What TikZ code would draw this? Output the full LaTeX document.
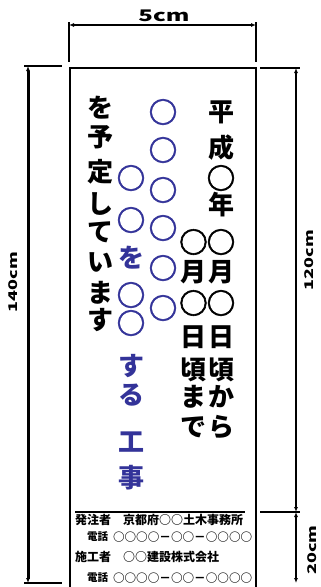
\documentclass[tikz,border=0pt]{standalone}
\usepackage{fontspec}
\setmainfont{Noto Sans CJK JP}
\newfontfamily\ofont[FakeBold=2]{Noto Sans CJK JP}
\usetikzlibrary{arrows.meta}
\usetikzlibrary{positioning}
\definecolor{signblue}{RGB}{51,51,153}
\newcommand{\maru}{{\ofont\scalebox{1.1}{○}}}

\begin{document}
\begin{tikzpicture}[x=1pt, y=-1pt,
    every node/.style={inner sep=0pt, outer sep=0pt},
    big/.style={font=\fontsize{26}{26}\selectfont\bfseries},
    blue/.style={big, text=signblue},
    small/.style={font=\fontsize{12}{12}\selectfont\bfseries, anchor=west},
    tel/.style={font=\fontsize{11.6}{12}\selectfont\bfseries, anchor=west},
    dim/.style={font=\fontsize{12}{12}\selectfont\bfseries},
    dimline/.style={line width=1.5pt, {Latex[length=5pt,width=4pt]}-{Latex[length=5pt,width=4pt]}},
    ext/.style={line width=1.5pt}]
    \useasboundingbox (0,0) rectangle (321,587);

    % board
    \coordinate (bl) at (70,592);
    \coordinate (tl) at (70,68);
    \coordinate (tr) at (256,68);
    \coordinate (br) at (256,592);
    \coordinate (s1) at (75,512);
    \coordinate (s2) at (245,512);
    \draw[line width=2pt] (bl) -- (tl) -- (tr) -- (br);
    \draw[line width=2pt] (s1) -- (s2);

    % date columns
    \foreach \c/\y [count=\i] in {平/112, 成/148, \maru/178, 年/205, \maru/242, 月/272, \maru/303, 日/337, 頃/370, か/397, ら/427}
        \node (b\i) [big] at (221,\y) {\c};
    \foreach \c/\y [count=\i] in {\maru/242, 月/272, \maru/303, 日/337, 頃/370, ま/397, で/427}
        \node (a\i) [big] at (193.5,\y) {\c};

    % work columns
    \foreach \y [count=\i] in {112, 150, 190, 228, 268, 308}
        \node (c\i) [blue] at (163,\y) {\maru};
    \foreach \c/\y [count=\i] in {\maru/178, \maru/220, を/258, \maru/295, \maru/323, す/366, る/395, 工/442, 事/478}
        \node (d\i) [blue] at (131,\y) {\c};
    \foreach \c/\y [count=\i] in {を/108, 予/137, 定/172, し/204, て/232, い/262, ま/293, す/320}
        \node (e\i) [big] at (100,\y) {\c};

    % contact
    \node (n1) [small] at (75,520) {発注者　京都府○○土木事務所};
    \node (t1) [tel, font=\fontsize{10.5}{10}\selectfont\bfseries] at (87,537) {電話};
    \node (n2) [tel] at (113,537) {○○○○－○○－○○○○};
    \node (n3) [small] at (75,557) {施工者　○○建設株式会社};
    \node (t2) [tel, font=\fontsize{10.5}{10}\selectfont\bfseries] at (87,578) {電話};
    \node (n4) [tel] at (113,578) {○○○○－○○－○○○○};

    % width
    \coordinate (w1) at (69,22);
    \coordinate (w2) at (69,62);
    \coordinate (w3) at (256,22);
    \coordinate (w4) at (256,62);
    \draw[ext] (w1) -- (w2);
    \draw[ext] (w3) -- (w4);
    \draw[dimline] (69,25) -- (256,25);
    \node (5cm) [font=\fontsize{16}{16}\selectfont\bfseries] at (164,16) {\scalebox{1.5}[1]{5cm}};

    % total height
    \coordinate (h1) at (24,66);
    \coordinate (h2) at (62,66);
    \coordinate (h3) at (24,583);
    \coordinate (h4) at (62,583);
    \draw[ext] (h1) -- (h2);
    \draw[ext] (h3) -- (h4);
    \draw[dimline, line width=3pt] (28,66) -- (28,583);
    \node (140cm) [dim, rotate=90] at (13,282) {\scalebox{1.5}[1]{140cm}};

    % face and footer
    \coordinate (r1) at (260,68);
    \coordinate (r2) at (300,68);
    \coordinate (r3) at (260,512);
    \coordinate (r4) at (300,512);
    \draw[ext] (r1) -- (r2);
    \draw[ext] (r3) -- (r4);
    \draw[dimline] (296,68) -- (296,512);
    \draw[dimline] (296,512) -- (296,583);
    \node (120cm) [dim, rotate=90] at (309,260) {\scalebox{1.5}[1]{120cm}};
    \node (20cm) [dim, rotate=90] at (312,550) {\scalebox{1.5}[1]{20cm}};
\end{tikzpicture}
\end{document}
